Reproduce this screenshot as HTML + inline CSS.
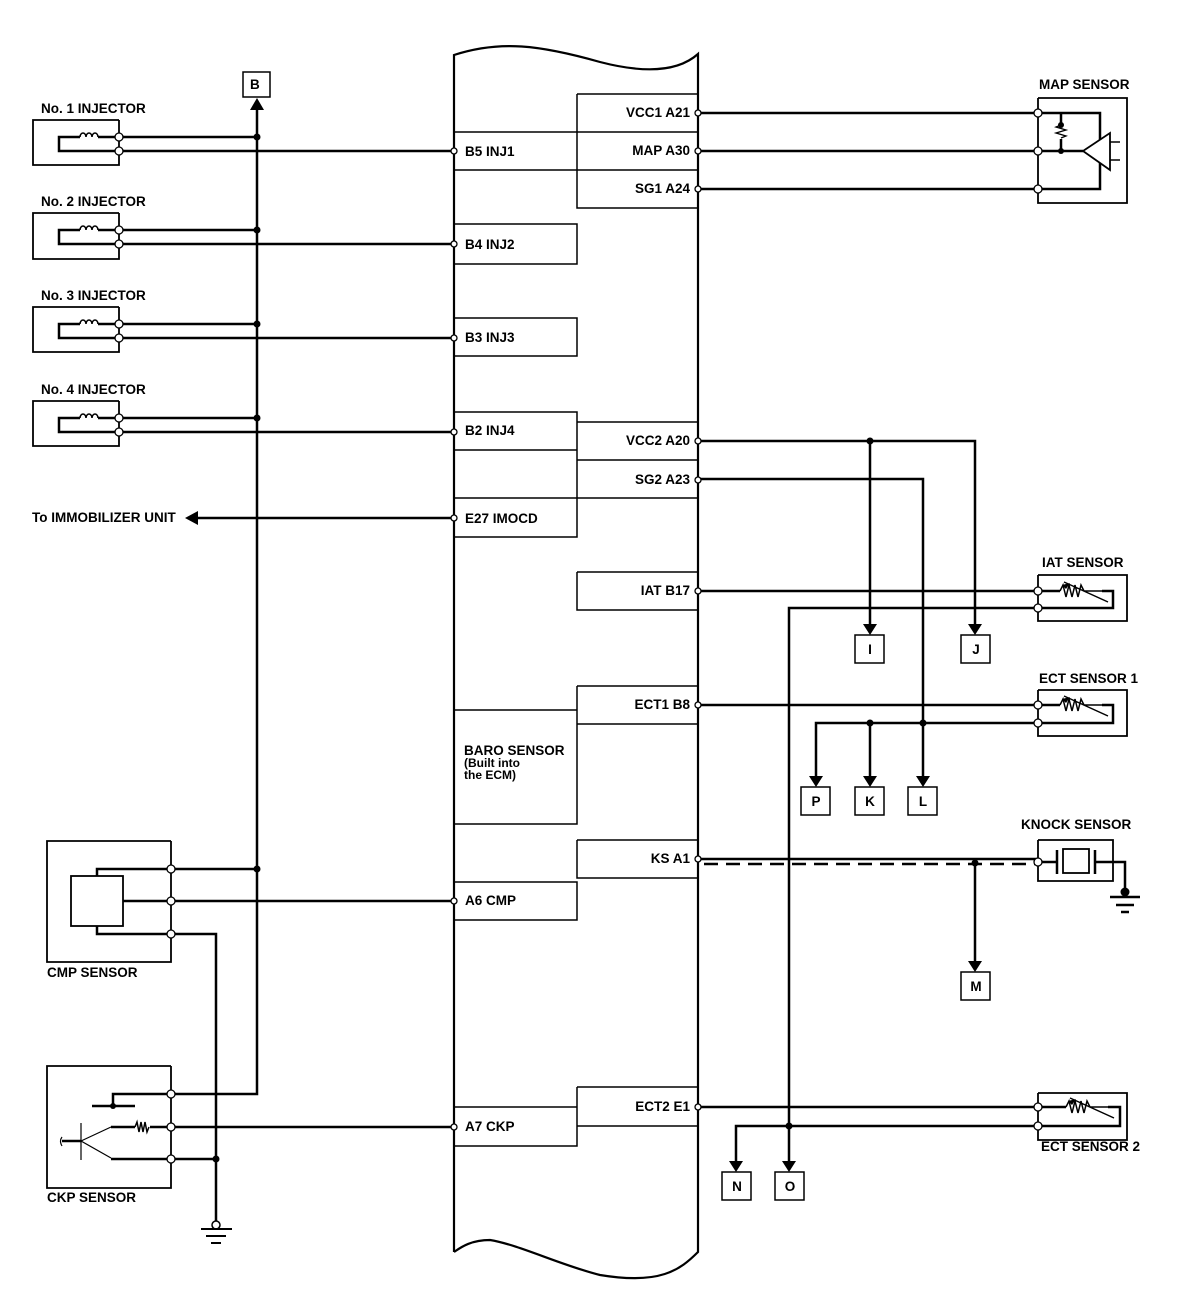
<!DOCTYPE html>
<html><head><style>
html,body{margin:0;padding:0;background:#fff;}
svg{display:block;}
text{font-family:"Liberation Sans",Arial,sans-serif;font-weight:bold;font-size:13.5px;fill:#000;}
</style></head><body>
<svg width="1184" height="1300" viewBox="0 0 1184 1300" xmlns="http://www.w3.org/2000/svg">
<g fill="none" stroke="#000" stroke-width="2">
<path d="M454 1252 L454 55 C500 40 540 45 600 62 C650 75 680 70 698 54 L698 1252 C680 1270 660 1285 600 1275 C560 1265 520 1245 490 1240 C470 1240 460 1248 454 1252" stroke-width="2.2"/>
<g stroke-width="1.5">
<path d="M577 94 H698 M577 94 V208 H698 M577 132 H698 M577 170 H698"/>
<path d="M454 132 H577 M454 170 H577"/>
<path d="M454 224 H577 V264 H454"/>
<path d="M454 318 H577 V356 H454"/>
<path d="M454 412 H577 V450 H454 M577 422 H698 M577 460 H698 M577 498 H698 M577 450 V498"/>
<path d="M454 498 H577 V537 H454"/>
<path d="M577 572 H698 M577 572 V610 H698"/>
<path d="M577 686 H698 M577 686 V824 H454 M577 724 H698 M454 710 H577"/>
<path d="M577 840 H698 M577 840 V878 H698"/>
<path d="M454 882 H577 V920 H454"/>
<path d="M577 1087 H698 M577 1087 V1146 H454 M577 1126 H698 M454 1107 H577"/>
</g>
<g stroke-width="1.8">
<path d="M119 120 H33 V165 H119 V120"/>
<path d="M119 213 H33 V259 H119 V213"/>
<path d="M119 307 H33 V352 H119 V307"/>
<path d="M119 401 H33 V446 H119 V401"/>
</g>
<g stroke-width="2.5">
<path d="M119 137 H98 M80 137 H59 V151 H119"/>
<path d="M119 230 H98 M80 230 H59 V244 H119"/>
<path d="M119 324 H98 M80 324 H59 V338 H119"/>
<path d="M119 418 H98 M80 418 H59 V432 H119"/>
<path d="M119 137 H257 M119 230 H257 M119 324 H257 M119 418 H257"/>
<path d="M119 151 H454 M119 244 H454 M119 338 H454 M119 432 H454"/>
<path d="M257 106 V1094 H171"/>
<path d="M196 518 H454"/>
</g>
<g stroke-width="1.5">
<path d="M80 137 a3 4 0 1 1 6 0 a3 4 0 1 1 6 0 a3 4 0 1 1 6 0"/>
<path d="M80 230 a3 4 0 1 1 6 0 a3 4 0 1 1 6 0 a3 4 0 1 1 6 0"/>
<path d="M80 324 a3 4 0 1 1 6 0 a3 4 0 1 1 6 0 a3 4 0 1 1 6 0"/>
<path d="M80 418 a3 4 0 1 1 6 0 a3 4 0 1 1 6 0 a3 4 0 1 1 6 0"/>
</g>
<rect x="243" y="72" width="27" height="25" stroke-width="1.5"/>
<path d="M171 841 H47 V962 H171 V841" stroke-width="1.8"/>
<rect x="71" y="876" width="52" height="50" stroke-width="1.8"/>
<g stroke-width="2.5">
<path d="M97 876 V869 H257"/>
<path d="M123 901 H454"/>
<path d="M97 926 V934 H216 V1222"/>
</g>
<path d="M171 1066 H47 V1188 H171 V1066" stroke-width="1.8"/>
<g stroke-width="2.5">
<path d="M113 1106 V1094 H171"/>
<path d="M92 1106 H135"/>
<path d="M111 1127 H135 M150 1127 H454"/>
<path d="M111 1159 H216"/>
<path d="M62 1141 H81"/>
</g>
<path d="M81 1123 V1160 M81 1141 L111 1127 M81 1141 L111 1158" stroke-width="1.2"/>
<path d="M135 1127 l2 -5 l2 10 l2 -10 l2 10 l2 -10 l2 10 l2 -5" stroke-width="1.5"/>
<path d="M62 1137 q-3 4 0 9" stroke-width="1.2"/>
<circle cx="216" cy="1225" r="4" fill="#fff" stroke-width="1.5"/>
<path d="M201 1229 H232 M206 1236 H226 M211 1243 H221" stroke-width="2"/>
<path d="M1038 98 H1127 V203 H1038 V98" stroke-width="1.8"/>
<g stroke-width="2.5">
<path d="M698 113 H1100 V140"/>
<path d="M698 151 H1083"/>
<path d="M698 189 H1100 V163"/>
<path d="M1061 113 V125 M1061 139 V151"/>
</g>
<path d="M1061 125 l-5 2 l10 3 l-10 3 l10 3 l-5 2" stroke-width="1.3"/>
<path d="M1083 151 L1110 133 V170 Z" stroke-width="1.8"/>
<path d="M1110 142 H1120 M1110 160 H1120" stroke-width="1.5"/>
<g stroke-width="2.5">
<path d="M698 441 H975 V628"/>
<path d="M870 441 V628"/>
<path d="M698 479 H923 V781"/>
<path d="M698 591 H1038"/>
<path d="M1038 608 H789 V1165"/>
<path d="M698 705 H1038"/>
<path d="M1038 723 H816 V781"/>
<path d="M870 723 V781"/>
<path d="M698 859 H1038"/>
<path d="M975 863 V965"/>
<path d="M698 1107 H1038"/>
<path d="M1038 1126 H736 V1165"/>
</g>
<path d="M704 864 H1038" stroke-width="2.5" stroke-dasharray="14 8"/>
<g stroke-width="1.8">
<path d="M1038 575 H1127 V621 H1038 V575"/>
<path d="M1038 690 H1127 V736 H1038 V690"/>
<path d="M1038 1093 H1127 V1140 H1038 V1093"/>
<path d="M1038 840 H1113 V881 H1038 V840"/>
<rect x="1063" y="849" width="26" height="24"/>
</g>
<g stroke-width="2.5">
<path d="M1038 591 H1060 M1102 591 H1113 V608 H1038"/>
<path d="M1038 705 H1060 M1102 705 H1113 V723 H1038"/>
<path d="M1038 1107 H1066 M1108 1107 H1120 V1126 H1038"/>
<path d="M1038 862 H1057 M1095 862 H1125 V890"/>
<path d="M1057 850 V874 M1095 850 V874"/>
<path d="M1110 897 H1140 M1116 905 H1134 M1121 912 H1129"/>
</g>
<g stroke-width="1.5">
<path d="M1060 591 l3 -6 l3 12 l3 -12 l3 12 l3 -12 l3 12 l3 -12 l3 6 H1102 M1064 582 L1108 602"/>
<path d="M1060 705 l3 -6 l3 12 l3 -12 l3 12 l3 -12 l3 12 l3 -12 l3 6 H1102 M1064 696 L1108 716"/>
<path d="M1066 1107 l3 -6 l3 12 l3 -12 l3 12 l3 -12 l3 12 l3 -12 l3 6 H1108 M1070 1098 L1114 1118"/>
</g>
<path d="M1125 890 V897" stroke-width="2.5"/>
<g stroke-width="1.5">
<rect x="855" y="635" width="29" height="28"/>
<rect x="961" y="635" width="29" height="28"/>
<rect x="801" y="787" width="29" height="28"/>
<rect x="855" y="787" width="29" height="28"/>
<rect x="908" y="787" width="29" height="28"/>
<rect x="961" y="972" width="29" height="28"/>
<rect x="722" y="1172" width="29" height="28"/>
<rect x="775" y="1172" width="29" height="28"/>
</g>
</g>
<g fill="#000">
<path d="M250 110 L257 98 L264 110 Z"/>
<path d="M185 518 L198 511 L198 525 Z"/>
<path d="M863 624 L877 624 L870 635 Z"/>
<path d="M968 624 L982 624 L975 635 Z"/>
<path d="M809 776 L823 776 L816 787 Z"/>
<path d="M863 776 L877 776 L870 787 Z"/>
<path d="M916 776 L930 776 L923 787 Z"/>
<path d="M968 961 L982 961 L975 972 Z"/>
<path d="M729 1161 L743 1161 L736 1172 Z"/>
<path d="M782 1161 L796 1161 L789 1172 Z"/>
<path d="M1062 585 L1070 583 L1066 589 Z"/>
<path d="M1062 699 L1070 697 L1066 703 Z"/>
<path d="M1068 1101 L1076 1099 L1072 1105 Z"/>
<circle cx="257" cy="137" r="3.5"/><circle cx="257" cy="230" r="3.5"/>
<circle cx="257" cy="324" r="3.5"/><circle cx="257" cy="418" r="3.5"/>
<circle cx="257" cy="869" r="3.5"/><circle cx="216" cy="1159" r="3.5"/>
<circle cx="113" cy="1106" r="3"/>
<circle cx="1061" cy="125" r="3"/><circle cx="1061" cy="151" r="3"/>
<circle cx="870" cy="441" r="3.5"/><circle cx="870" cy="723" r="3.5"/>
<circle cx="923" cy="723" r="3.5"/><circle cx="975" cy="863" r="3.5"/>
<circle cx="789" cy="1126" r="3.5"/><circle cx="1125" cy="892" r="4.5"/>
</g>
<g fill="#fff" stroke="#000" stroke-width="1.3">
<circle cx="119" cy="137" r="4"/><circle cx="119" cy="151" r="4"/>
<circle cx="119" cy="230" r="4"/><circle cx="119" cy="244" r="4"/>
<circle cx="119" cy="324" r="4"/><circle cx="119" cy="338" r="4"/>
<circle cx="119" cy="418" r="4"/><circle cx="119" cy="432" r="4"/>
<circle cx="171" cy="869" r="4"/><circle cx="171" cy="901" r="4"/><circle cx="171" cy="934" r="4"/>
<circle cx="171" cy="1094" r="4"/><circle cx="171" cy="1127" r="4"/><circle cx="171" cy="1159" r="4"/>
<circle cx="454" cy="151" r="3"/><circle cx="454" cy="244" r="3"/><circle cx="454" cy="338" r="3"/>
<circle cx="454" cy="432" r="3"/><circle cx="454" cy="518" r="3"/><circle cx="454" cy="901" r="3"/>
<circle cx="454" cy="1127" r="3"/>
<circle cx="698" cy="113" r="3"/><circle cx="698" cy="151" r="3"/><circle cx="698" cy="189" r="3"/>
<circle cx="698" cy="441" r="3"/><circle cx="698" cy="480" r="3"/><circle cx="698" cy="591" r="3"/>
<circle cx="698" cy="705" r="3"/><circle cx="698" cy="859" r="3"/><circle cx="698" cy="1107" r="3"/>
<circle cx="1038" cy="113" r="4"/><circle cx="1038" cy="151" r="4"/><circle cx="1038" cy="189" r="4"/>
<circle cx="1038" cy="591" r="4"/><circle cx="1038" cy="608" r="4"/>
<circle cx="1038" cy="705" r="4"/><circle cx="1038" cy="723" r="4"/>
<circle cx="1038" cy="862" r="4"/>
<circle cx="1038" cy="1107" r="4"/><circle cx="1038" cy="1126" r="4"/>
</g>
<text x="250" y="89">B</text>
<text x="41" y="113">No. 1 INJECTOR</text>
<text x="41" y="206">No. 2 INJECTOR</text>
<text x="41" y="300">No. 3 INJECTOR</text>
<text x="41" y="394">No. 4 INJECTOR</text>
<text x="32" y="522">To IMMOBILIZER UNIT</text>
<text x="47" y="977">CMP SENSOR</text>
<text x="47" y="1202">CKP SENSOR</text>
<text x="465" y="156">B5 INJ1</text>
<text x="465" y="249">B4 INJ2</text>
<text x="465" y="342">B3 INJ3</text>
<text x="465" y="435">B2 INJ4</text>
<text x="465" y="523">E27 IMOCD</text>
<text x="464" y="755">BARO SENSOR</text>
<text x="464" y="767" style="font-size:12px">(Built into</text>
<text x="464" y="779" style="font-size:12px">the ECM)</text>
<text x="465" y="905">A6 CMP</text>
<text x="465" y="1131">A7 CKP</text>
<g text-anchor="end">
<text x="690" y="117">VCC1 A21</text>
<text x="690" y="155">MAP A30</text>
<text x="690" y="193">SG1 A24</text>
<text x="690" y="445">VCC2 A20</text>
<text x="690" y="484">SG2 A23</text>
<text x="690" y="595">IAT B17</text>
<text x="690" y="709">ECT1 B8</text>
<text x="690" y="863">KS A1</text>
<text x="690" y="1111">ECT2 E1</text>
</g>
<text x="1039" y="89">MAP SENSOR</text>
<text x="1042" y="567">IAT SENSOR</text>
<text x="1039" y="683">ECT SENSOR 1</text>
<text x="1021" y="829">KNOCK SENSOR</text>
<text x="1041" y="1151">ECT SENSOR 2</text>
<g text-anchor="middle">
<text x="870" y="654">I</text>
<text x="976" y="654">J</text>
<text x="816" y="806">P</text>
<text x="870" y="806">K</text>
<text x="923" y="806">L</text>
<text x="976" y="991">M</text>
<text x="737" y="1191">N</text>
<text x="790" y="1191">O</text>
</g>
</svg>
</body></html>
